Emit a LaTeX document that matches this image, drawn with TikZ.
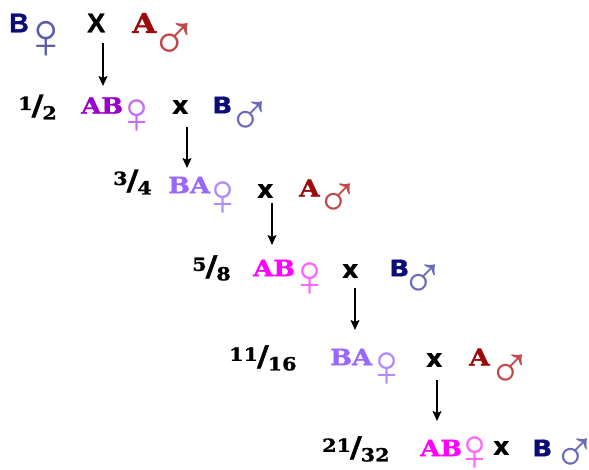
\documentclass[tikz,border=0pt]{standalone}
\usepackage{fontspec}
\usetikzlibrary{arrows.meta}
\newfontfamily\myslab[FakeStretch=1.15,FakeBold=1.4]{DejaVu Serif Bold}
\newfontfamily\mysym{Liberation Sans}
\newfontfamily\mysans[FakeBold=0.8]{DejaVu Sans Bold}
\newfontfamily\mywideb[FakeBold=0.8,FakeStretch=1.15]{DejaVu Sans Bold}
\newfontfamily\myarial[FakeBold=1.2]{Liberation Sans Bold}
\definecolor{navyB}{HTML}{0C0C78}
\definecolor{redA}{HTML}{9C0A0A}
\definecolor{venusA}{HTML}{5E5EA8}
\definecolor{marsA}{HTML}{C04848}
\definecolor{purpAB}{HTML}{9A00CC}
\definecolor{venusP}{HTML}{C66EF0}
\definecolor{marsB}{HTML}{6A6AB8}
\definecolor{lavBA}{HTML}{9966FF}
\definecolor{venusL}{HTML}{B08CFF}
\definecolor{magAB}{HTML}{FF00FF}
\definecolor{venusM}{HTML}{FF66FF}
\newcommand\myfrac[2]{{\myslab\fontsize{18}{18}\selectfont\raisebox{5pt}{#1}\kern-1pt{\fontsize{28}{28}\selectfont/}\kern-1pt\raisebox{-4.5pt}{#2}}}
\newcommand\myvenus{\kern-0.208em♀\kern-0.2em}
\newcommand\mymars{\kern-0.167em♂\kern-0.14em}
\tikzset{
  lbl/.style={inner sep=0pt, anchor=west},
  slabtxt/.style={lbl, font=\myslab\fontsize{22.5}{22.5}\selectfont},
  bigsans/.style={lbl, font=\myarial\fontsize{27}{27}\selectfont},
  navytxt/.style={lbl, text=navyB, font=\mywideb\fontsize{23}{23}\selectfont},
  redtxt/.style={slabtxt, text=redA, font=\myslab\fontsize{23}{23}\selectfont},
  crosstxt/.style={lbl, font=\mysans\fontsize{25}{25}\selectfont},
  gsym/.style={lbl, font=\mysym\fontsize{60}{60}\selectfont},
  bigsym/.style={lbl, font=\mysym\fontsize{66}{66}\selectfont},
  fractxt/.style={lbl},
  arr/.style={line width=1.6pt, -{Stealth[length=10pt,width=9pt,inset=2pt]}}
}
\begin{document}
\begin{tikzpicture}[x=1pt,y=-1pt]
\useasboundingbox[fill=white] (0,0) rectangle (589,470);
% row 0
\node[bigsans, text=navyB] (b0) at (9,23) {B};
\node[bigsym, text=venusA] (f0) at (35,40) {\myvenus};
\node[bigsans] (x0) at (87,23) {X};
\node[lbl, text=redA, font=\myslab\fontsize{27}{27}\selectfont] (a0) at (132,23) {A};
\node[bigsym, text=marsA] (m0) at (160,42) {\mymars};
% row 1
\node[fractxt] (q1) at (18,107) {\myfrac{1}{2}};
\node[slabtxt, text=purpAB] (g1) at (81,105.5) {AB};
\node[gsym, text=venusP] (f1) at (127,117) {\myvenus};
\node[crosstxt] (x1) at (172,107) {x};
\node[navytxt] (b1) at (212,105) {B};
\node[gsym, text=marsB] (m1) at (237,119) {\mymars};
% row 2
\node[fractxt] (q2) at (113,182) {\myfrac{3}{4}};
\node[slabtxt, text=lavBA] (g2) at (168,185) {BA};
\node[gsym, text=venusL] (f2) at (213,199) {\myvenus};
\node[crosstxt] (x2) at (257,191) {x};
\node[redtxt] (a2) at (299,188) {A};
\node[gsym, text=marsA] (m2) at (325,201) {\mymars};
% row 3
\node[fractxt] (q3) at (192,268) {\myfrac{5}{8}};
\node[slabtxt, text=magAB] (g3) at (253,268) {AB};
\node[gsym, text=venusM] (f3) at (300,280) {\myvenus};
\node[crosstxt] (x3) at (342,271) {x};
\node[navytxt] (b3) at (389,268) {B};
\node[gsym, text=marsB] (m3) at (410,282) {\mymars};
% row 4
\node[fractxt] (q4) at (229,358) {\myfrac{11}{16}};
\node[slabtxt, text=lavBA] (g4) at (330,357) {BA};
\node[gsym, text=venusL] (f4) at (377,370) {\myvenus};
\node[crosstxt] (x4) at (426,360) {x};
\node[redtxt] (a4) at (469,357) {A};
\node[gsym, text=marsA] (m4) at (497,372) {\mymars};
% row 5
\node[fractxt] (q5) at (322,449) {\myfrac{21}{32}};
\node[slabtxt, text=magAB] (g5) at (420,448) {AB};
\node[gsym, text=venusM] (f5) at (465,454) {\myvenus};
\node[crosstxt] (x5) at (493,448) {x};
\node[navytxt] (b5) at (532,448) {B};
\node[gsym, text=marsB] (m5) at (562,456) {\mymars};
% arrows
\coordinate (s0) at (103,43);  \coordinate (e0) at (103,86);
\coordinate (s1) at (187,127); \coordinate (e1) at (187,168);
\coordinate (s2) at (272,203); \coordinate (e2) at (272,245);
\coordinate (s3) at (355,288); \coordinate (e3) at (355,330);
\coordinate (s4) at (437,380); \coordinate (e4) at (437,421);
\draw[arr] (s0) -- (e0);
\draw[arr] (s1) -- (e1);
\draw[arr] (s2) -- (e2);
\draw[arr] (s3) -- (e3);
\draw[arr] (s4) -- (e4);
\end{tikzpicture}
\end{document}
